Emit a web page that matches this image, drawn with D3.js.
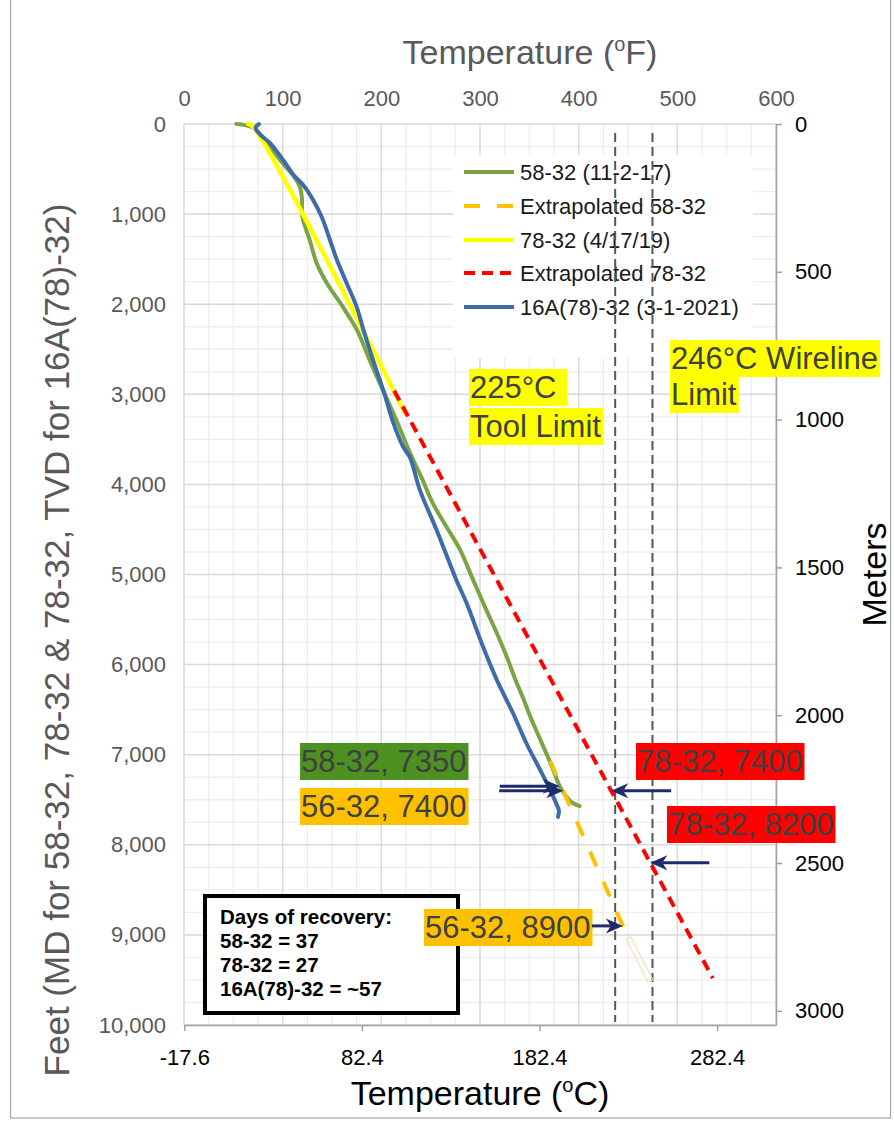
<!DOCTYPE html>
<html>
<head>
<meta charset="utf-8">
<script src="https://cdn.jsdelivr.net/npm/d3@7"></script>
<style>
  body { margin: 0; background: #fff; }
  svg { display: block; }
  text { font-family: "Liberation Sans", Arial, sans-serif; }
</style>
</head>
<body>
<svg id="chart" width="894" height="1122"></svg>
<script>
// ---- Data: temperature (°F) vs depth (ft) ----
const well58_32 = [
  [53,0],[62,12],[71,45],[78,130],[87,250],[100,435],[112,590],[117.5,700],[119.5,820],
  [120,1030],[127.5,1290],[134.5,1545],[145,1770],[161,2030],[176,2300],[187,2590],
  [200,2915],[215,3280],[229,3650],[241,3930],[252,4205],[266,4470],[280,4730],
  [293,5060],[306.5,5395],[317,5650],[327,5910],[336,6170],[344,6380],[351,6580],
  [361,6830],[371,7080],[381,7355],[386,7445],[393,7530],[401,7570]
];
const extrap58_32 = [[371,7070],[446,8930]];
const well78_32 = [[65,0],[70,30],[224,3210]];
const extrap78_32 = [[213,2960],[536,9480]];
const well16A = [
  [76,0],[73,30],[73,60],[78,125],[87,210],[100.5,400],[111,565],[121,680],[131,845],
  [139.5,1030],[148,1290],[155,1510],[165,1770],[175,2030],[182,2290],[191,2600],
  [203,2990],[211,3280],[219,3510],[223,3600],[229,3700],[239,4060],[256,4505],
  [276,5060],[286.5,5320],[303,5800],[317,6170],[333.5,6540],[347,6873],[361,7170],
  [371,7390],[378,7560],[380,7620],[379,7690]
];

const seriesNames = ["58-32 (11-2-17)","Extrapolated 58-32","78-32 (4/17/19)","Extrapolated 78-32","16A(78)-32 (3-1-2021)"];

const fahrenheitTicks = [0,100,200,300,400,500,600];
const depthTicks = [0,1000,2000,3000,4000,5000,6000,7000,8000,9000,10000];
const meterTicks = [0,500,1000,1500,2000,2500,3000];
const celsiusTicks = [-17.6,82.4,182.4,282.4];

const limitsC = [225, 246];          // tool limit, wireline limit (°C)
const recoveryDays = ["Days of recovery:","58-32 = 37","78-32 = 27","16A(78)-32 = ~57"];

// pointer labels: depth (ft) stated by each label, and the curve it points at
const pointers = [
  {text:"58-32, 7350", depth:7350, curve:well58_32,  fill:"#4c9121", tx:301, ty:772, dir:1,  len:60},
  {text:"56-32, 7400", depth:7400, curve:extrap58_32,fill:"#ffc000", tx:301, ty:817, dir:1,  len:64},
  {text:"78-32, 7400", depth:7400, curve:extrap78_32,fill:"#ff0000", tx:637, ty:772, dir:-1, len:60},
  {text:"78-32, 8200", depth:8200, curve:extrap78_32,fill:"#ff0000", tx:668, ty:835, dir:-1, len:59},
  {text:"56-32, 8900", depth:8900, curve:extrap58_32,fill:"#ffc000", tx:425, ty:938, dir:1,  len:31}
];

// ---- Layout ----
const svg = d3.select("#chart");
const L = 184, R = 776, T = 124, B = 1025;
const font = '"Liberation Sans", Arial, sans-serif';

const x = d3.scaleLinear().domain([0,600]).range([L,R]);
const y = d3.scaleLinear().domain([0,10000]).range([T,B]);
const xC = d3.scaleLinear().domain([(0-32)/1.8,(600-32)/1.8]).range([L,R]);
const yM = d3.scaleLinear().domain([0,10000*0.3048]).range([T,B]);

// outer frame
svg.append("rect").attr("x",10.5).attr("y",-2).attr("width",880).attr("height",1120)
  .attr("fill","none").attr("stroke","#a6a6a6").attr("stroke-width",1.2);

// ---- Grid ----
const grid = svg.append("g");
d3.range(0,601,25).filter(v=>v%100!==0).forEach(v=>{
  grid.append("line").attr("x1",x(v)).attr("x2",x(v)).attr("y1",T).attr("y2",B)
    .attr("stroke","#eeeeee").attr("stroke-width",1.3);
});
d3.range(0,10001,250).filter(v=>v%1000!==0).forEach(v=>{
  grid.append("line").attr("x1",L).attr("x2",R).attr("y1",y(v)).attr("y2",y(v))
    .attr("stroke","#eeeeee").attr("stroke-width",1.3);
});
fahrenheitTicks.forEach(v=>{
  grid.append("line").attr("x1",x(v)).attr("x2",x(v)).attr("y1",T).attr("y2",B)
    .attr("stroke","#d9d9d9").attr("stroke-width",1.5);
});
depthTicks.forEach(v=>{
  grid.append("line").attr("x1",L).attr("x2",R).attr("y1",y(v)).attr("y2",y(v))
    .attr("stroke","#d9d9d9").attr("stroke-width",1.5);
});

// ---- Axes ----
const leftAxis = svg.append("g").attr("transform",`translate(${L},0)`)
  .call(d3.axisLeft(y).tickValues(depthTicks).tickFormat(d3.format(",")).tickSize(0).tickPadding(18));
leftAxis.select(".domain").remove();
leftAxis.selectAll("text").attr("fill","#595959").style("font-size","22px").style("font-family",font);

const topAxis = svg.append("g").attr("transform",`translate(0,${T})`)
  .call(d3.axisTop(x).tickValues(fahrenheitTicks).tickFormat(d3.format("d")).tickSize(0).tickPadding(18));
topAxis.select(".domain").remove();
topAxis.selectAll("text").attr("fill","#595959").style("font-size","22px").style("font-family",font);

const rightAxis = svg.append("g").attr("transform",`translate(${R},0)`)
  .call(d3.axisRight(yM).tickValues(meterTicks).tickFormat(d3.format("d")).tickSize(6).tickSizeOuter(0).tickPadding(13));
rightAxis.select(".domain").attr("stroke","#a0a0a0").attr("stroke-width",1.5);
rightAxis.selectAll(".tick line").attr("stroke","#a0a0a0").attr("stroke-width",1.5);
rightAxis.selectAll("text").attr("fill","#000").style("font-size","22px").style("font-family",font);

const bottomAxis = svg.append("g").attr("transform",`translate(0,${B})`)
  .call(d3.axisBottom(xC).tickValues(celsiusTicks).tickFormat(d=>d.toFixed(1)).tickSize(6).tickSizeOuter(0).tickPadding(18));
bottomAxis.select(".domain").attr("stroke","#a0a0a0").attr("stroke-width",1.5);
bottomAxis.selectAll(".tick line").attr("stroke","#a0a0a0").attr("stroke-width",1.5);
bottomAxis.selectAll("text").attr("fill","#000").style("font-size","22px").style("font-family",font);

// axis titles
function degTitle(g, unit){
  g.append("tspan").text("Temperature (");
  g.append("tspan").attr("dy",-13).style("font-size","20px").text("o");
  g.append("tspan").attr("dy",13).text(unit + ")");
}
degTitle(svg.append("text").attr("x",530).attr("y",64).attr("text-anchor","middle")
  .attr("fill","#595959").style("font-size","34px"), "F");
degTitle(svg.append("text").attr("x",480).attr("y",1105).attr("text-anchor","middle")
  .attr("fill","#000").style("font-size","34px"), "C");
svg.append("text").attr("transform",`translate(69,640) rotate(-90)`)
  .attr("text-anchor","middle").attr("fill","#595959").style("font-size","35px")
  .text("Feet (MD for 58-32, 78-32 & 78-32, TVD for 16A(78)-32)");
svg.append("text").attr("transform",`translate(886,${(T+B)/2}) rotate(-90)`)
  .attr("text-anchor","middle").attr("fill","#000").style("font-size","34px")
  .text("Meters");

// ---- Legend ----
const styles = [
  {color:"#7ba445", width:4, dash:null},
  {color:"#ffc000", width:4, dash:"16,17"},
  {color:"#ffff00", width:4.5, dash:null},
  {color:"#ff0000", width:4, dash:"11,7"},
  {color:"#3d6ca8", width:4, dash:null}
];
const legend = svg.append("g");
legend.append("rect").attr("x",453).attr("y",155).attr("width",300).attr("height",203).attr("fill","#fff");
const legendRows = [172,206,240,273,307];
seriesNames.forEach((name,i)=>{
  const st = styles[i];
  legend.append("line").attr("x1",464).attr("x2",514).attr("y1",legendRows[i]).attr("y2",legendRows[i])
    .attr("stroke",st.color).attr("stroke-width",st.width).attr("stroke-dasharray",st.dash);
  legend.append("text").attr("x",520).attr("y",legendRows[i]).attr("dy","0.35em")
    .attr("fill","#1a1a1a").style("font-size","22px").text(name);
});

// ---- Limit lines ----
limitsC.forEach(c=>{
  svg.append("line").attr("x1",xC(c)).attr("x2",xC(c)).attr("y1",133).attr("y2",1022)
    .attr("stroke","#505a55").attr("stroke-width",2).attr("stroke-dasharray","9,5");
});

// ---- Series ----
const line = d3.line().x(d=>x(d[0])).y(d=>y(d[1])).curve(d3.curveCatmullRom.alpha(0.5));
const allSeries = [well58_32, extrap58_32, well78_32, extrap78_32, well16A];
allSeries.forEach((data,i)=>{
  const st = styles[i];
  svg.append("path").datum(data).attr("d",line).attr("fill","none")
    .attr("stroke",st.color).attr("stroke-width",st.width)
    .attr("stroke-dasharray",st.dash).attr("stroke-linecap",st.dash?"butt":"round")
    .attr("stroke-linejoin","round");
});

// faint empty text frame near the 58-32 extrapolation end
svg.append("polygon").attr("points","626,939 631,937 653,980 648,982")
  .attr("fill","none").attr("stroke","#f3d9a6").attr("stroke-width",1);

// ---- Recovery box ----
svg.append("rect").attr("x",205).attr("y",896).attr("width",253).attr("height",117)
  .attr("fill","#fff").attr("stroke","#000").attr("stroke-width",4);
recoveryDays.forEach((s,i)=>{
  svg.append("text").attr("x",220).attr("y",924+i*24).attr("fill","#000")
    .style("font-size","20.5px").style("font-weight","bold").text(s);
});

// ---- Limit labels ----
function boxLabel(lines, fill){
  lines.forEach(l=>{
    const g = svg.append("g");
    const t = g.append("text").attr("x",l.x).attr("y",l.y).attr("fill","#404040")
      .style("font-size","31px").text(l.text);
    const bb = t.node().getBBox();
    g.insert("rect","text").attr("x",l.x-1).attr("y",l.y-29)
      .attr("width",(l.w||bb.width+3)).attr("height",37).attr("fill",fill);
  });
}
boxLabel([{text:"225°C",x:470,y:398,w:98},{text:"Tool Limit",x:470,y:437}],"#ffff00");
boxLabel([{text:"246°C Wireline",x:671,y:369},{text:"Limit",x:671,y:405}],"#ffff00");

// ---- Pointer labels and arrows ----
function tempAtDepth(curve, depth){
  for(let i=1;i<curve.length;i++){
    const a=curve[i-1], b=curve[i];
    if((depth-a[1])*(depth-b[1])<=0){
      const f=(depth-a[1])/(b[1]-a[1]);
      return a[0]+f*(b[0]-a[0]);
    }
  }
  return curve[curve.length-1][0];
}
const arrowColor = "#1f2b6b";
pointers.forEach(p=>{
  boxLabel([{text:p.text,x:p.tx,y:p.ty}], p.fill);
  const tipX = x(tempAtDepth(p.curve,p.depth));
  const tipY = y(p.depth);
  const tailX = tipX - p.dir*p.len;
  svg.append("line").attr("x1",tailX).attr("x2",tipX-p.dir*12).attr("y1",tipY).attr("y2",tipY)
    .attr("stroke",arrowColor).attr("stroke-width",3);
  svg.append("path")
    .attr("d",`M${tipX},${tipY} L${tipX-p.dir*17},${tipY-7.5} L${tipX-p.dir*12},${tipY} L${tipX-p.dir*17},${tipY+7.5} Z`)
    .attr("fill",arrowColor);
});
</script>
</body>
</html>
